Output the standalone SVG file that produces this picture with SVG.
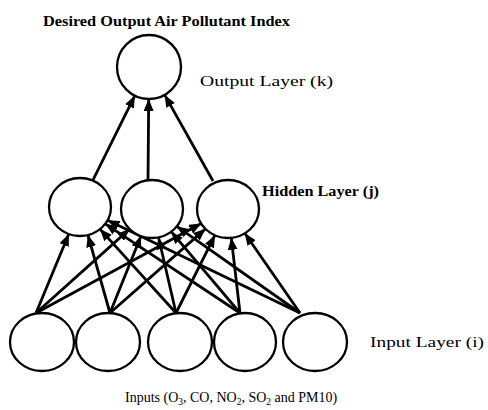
<svg xmlns="http://www.w3.org/2000/svg" width="488" height="410" viewBox="0 0 488 410">
<style>
.node{fill:#fff;stroke:#000;stroke-width:2.3}
.edge{stroke:#000;stroke-width:2.8;fill:none;marker-end:url(#arr)}
.lbl{font-family:"Liberation Serif","Times New Roman",serif;font-size:15px;fill:#000}
.b{font-weight:bold}
</style>
<defs>
<marker id="arr" markerUnits="userSpaceOnUse" markerWidth="13" markerHeight="10" refX="12" refY="5" orient="auto">
<path d="M0,0 L12,5 L0,10 Z" fill="#000"/>
</marker>
</defs>
<rect width="488" height="410" fill="#fff"/>
<g id="connectors">
<line class="edge" x1="93" y1="180" x2="134.8" y2="95.7"/>
<line class="edge" x1="148" y1="181" x2="148.7" y2="99"/>
<line class="edge" x1="213" y1="181" x2="164.7" y2="94.9"/>
<line class="edge" x1="36" y1="313" x2="68.8" y2="234"/>
<line class="edge" x1="110" y1="313" x2="87.9" y2="235"/>
<line class="edge" x1="176" y1="313" x2="100" y2="229.1"/>
<line class="edge" x1="240" y1="313" x2="105.3" y2="223.8"/>
<line class="edge" x1="300" y1="313" x2="107.6" y2="220.3"/>
<line class="edge" x1="36" y1="313" x2="129.6" y2="229.1"/>
<line class="edge" x1="110" y1="313" x2="141" y2="236.1"/>
<line class="edge" x1="176" y1="313" x2="158.5" y2="237.3"/>
<line class="edge" x1="240" y1="313" x2="171.2" y2="231.7"/>
<line class="edge" x1="300" y1="313" x2="176.8" y2="226.4"/>
<line class="edge" x1="36" y1="313" x2="201.2" y2="223.5"/>
<line class="edge" x1="110" y1="313" x2="205.4" y2="228.9"/>
<line class="edge" x1="176" y1="313" x2="214.9" y2="235.3"/>
<line class="edge" x1="240" y1="313" x2="231.3" y2="237.8"/>
<line class="edge" x1="300" y1="313" x2="244.8" y2="233.3"/>
</g>
<g id="output"><ellipse class="node" cx="149" cy="67" rx="32" ry="32"/></g>
<g id="hidden1"><ellipse class="node" cx="80" cy="207" rx="31" ry="29"/></g>
<g id="hidden2"><ellipse class="node" cx="152" cy="209" rx="31" ry="29"/></g>
<g id="hidden3"><ellipse class="node" cx="228" cy="209" rx="31" ry="29"/></g>
<g id="input1"><ellipse class="node" cx="42" cy="342" rx="32" ry="29"/></g>
<g id="input2"><ellipse class="node" cx="108" cy="342" rx="32" ry="29"/></g>
<g id="input3"><ellipse class="node" cx="180" cy="342" rx="32" ry="29"/></g>
<g id="input4"><ellipse class="node" cx="245" cy="342" rx="31" ry="29"/></g>
<g id="input5"><ellipse class="node" cx="315" cy="342" rx="32" ry="29"/></g>
<g id="labels">
<text class="lbl b" x="43" y="26" textLength="247" lengthAdjust="spacingAndGlyphs">Desired Output Air Pollutant Index</text>
<text class="lbl" x="200" y="86" textLength="133" lengthAdjust="spacingAndGlyphs">Output Layer (k)</text>
<text class="lbl b" x="262" y="196" textLength="117" lengthAdjust="spacingAndGlyphs">Hidden Layer (j)</text>
<text class="lbl" x="370" y="347" textLength="114" lengthAdjust="spacingAndGlyphs">Input Layer (i)</text>
<text class="lbl" x="125" y="402" font-size="14" style="font-size:14px">Inputs (O<tspan style="font-size:9.5px" dy="3">3</tspan><tspan dy="-3">, CO, NO</tspan><tspan style="font-size:9.5px" dy="3">2</tspan><tspan dy="-3">, SO</tspan><tspan style="font-size:9.5px" dy="3">2</tspan><tspan dy="-3"> and PM10)</tspan></text>
</g>
</svg>
